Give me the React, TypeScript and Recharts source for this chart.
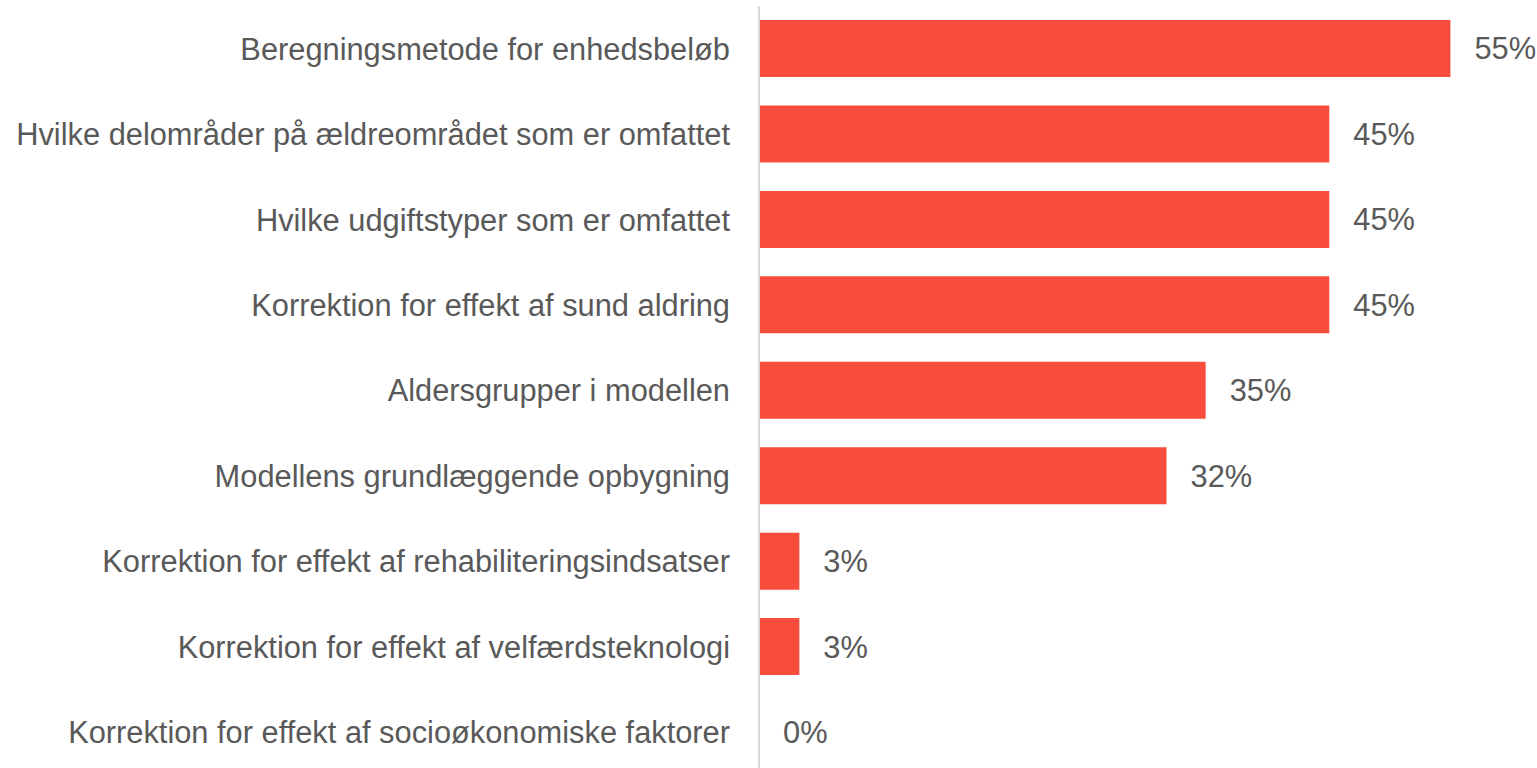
import { BarChart, Bar, XAxis, YAxis, LabelList } from 'recharts'

// survey answers, share of respondents
const categories = [
  'Beregningsmetode for enhedsbeløb',
  'Hvilke delområder på ældreområdet som er omfattet',
  'Hvilke udgiftstyper som er omfattet',
  'Korrektion for effekt af sund aldring',
  'Aldersgrupper i modellen',
  'Modellens grundlæggende opbygning',
  'Korrektion for effekt af rehabiliteringsindsatser',
  'Korrektion for effekt af velfærdsteknologi',
  'Korrektion for effekt af socioøkonomiske faktorer',
]
const shares = [0.548, 0.452, 0.452, 0.452, 0.354, 0.323, 0.032, 0.032, 0]

const chartData = categories.map((name, i) => ({ name, share: shares[i] }))

const font = 'Liberation Sans, Arial, Helvetica, sans-serif'

export default function App() {
  return (
    <div style={{ position: 'absolute', left: 0, top: 0 }}>
      <BarChart
        width={1537}
        height={775}
        data={chartData}
        layout="vertical"
        margin={{ top: 6, right: 21, bottom: 0, left: 0 }}
        barSize={57}
      >
        <XAxis type="number" domain={[0, 0.6]} hide />
        <YAxis
          type="category"
          dataKey="name"
          width={759}
          tickLine={false}
          axisLine={{ stroke: '#d9d9d9', strokeWidth: 2 }}
          tickMargin={23}
          tick={{ fill: '#595959', fontSize: 30.8, fontFamily: font }}
          interval={0}
        />
        <Bar dataKey="share" fill="#f84c3c" minPointSize={0.01} isAnimationActive={false}>
          <LabelList
            dataKey="share"
            position="right"
            offset={24}
            fill="#595959"
            fontSize={30.8}
            fontFamily={font}
            formatter={(v: any) => `${Math.round(Number(v) * 100)}%`}
          />
        </Bar>
      </BarChart>
    </div>
  )
}
